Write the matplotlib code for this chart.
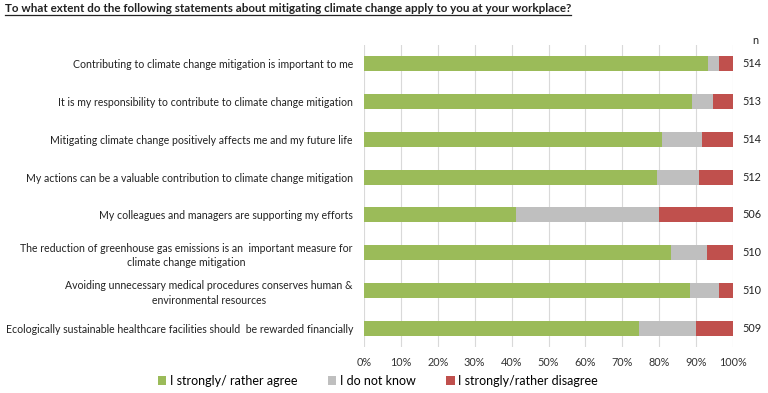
import matplotlib
matplotlib.use("Agg")
import matplotlib.pyplot as plt
from matplotlib.patches import Patch
import numpy as np

plt.rcParams['font.family'] = ['Lato', 'DejaVu Sans']

statements = [
    "Contributing to climate change mitigation is important to me",
    "It is my responsibility to contribute to climate change mitigation",
    "Mitigating climate change positively affects me and my future life",
    "My actions can be a valuable contribution to climate change mitigation",
    "My colleagues and managers are supporting my efforts",
    "The reduction of greenhouse gas emissions is an  important measure for\nclimate change mitigation",
    "Avoiding unnecessary medical procedures conserves human &\nenvironmental resources",
    "Ecologically sustainable healthcare facilities should  be rewarded financially",
]
agree = [93.3, 88.8, 80.7, 79.3, 41.2, 83.2, 88.3, 74.4]
dont_know = [2.8, 5.9, 10.8, 11.6, 38.7, 9.7, 7.9, 15.6]
disagree = [3.9, 5.3, 8.5, 9.1, 20.1, 7.1, 3.8, 10.0]
n_values = [514, 513, 514, 512, 506, 510, 510, 509]
series_names = ["I strongly/ rather agree", "I do not know", "I strongly/rather disagree"]
colors = ["#9BBB59", "#BFBFBF", "#C0504D"]

W, H = 768, 393
fig = plt.figure(figsize=(W / 100, H / 100), dpi=100)
ax = fig.add_axes([364 / W, 1 - 347 / H, (733 - 364) / W, (347 - 45) / H])

y = np.arange(len(statements))
left = np.zeros(len(statements))
for vals, col in zip([agree, dont_know, disagree], colors):
    ax.barh(y, vals, left=left, height=0.4, color=col, zorder=2)
    left = left + np.array(vals)

ax.set_xlim(0, 100)
ax.set_ylim(len(statements) - 0.5, -0.5)
ax.set_xticks(np.arange(0, 101, 10))
ax.set_xticklabels([f"{v}%" for v in range(0, 101, 10)], fontsize=7.8, color="#333333")
ax.set_yticks(y)
ax.set_yticklabels(statements, fontsize=7.6, color="#222222", linespacing=1.4)
for lbl in ax.get_yticklabels():
    lbl.set_multialignment('center')
ax.tick_params(axis='y', length=0, pad=8)
ax.tick_params(axis='x', length=0, pad=7)
ax.grid(axis='x', color="#D9D9D9", linewidth=0.8, zorder=0)
for s in ax.spines.values():
    s.set_visible(False)

# n column
trans = ax.get_yaxis_transform()
for yi, nv in zip(y, n_values):
    ax.text(1.05, yi, str(nv), transform=trans, ha='center', va='center', fontsize=7.8, color="#222222")
fig.text(755 / W, 1 - 40 / H, "n", ha='center', va='center', fontsize=7.8, color="#222222")

# title with underline
t = fig.text(5 / W, 1 - 9 / H, "To what extent do the following statements about mitigating climate change apply to you at your workplace?",
             ha='left', va='center', fontsize=8.4, fontweight='bold', color="#222222")
fig.canvas.draw()
bb = t.get_window_extent().transformed(fig.transFigure.inverted())
fig.add_artist(plt.Line2D([bb.x0, bb.x1], [bb.y0 - 0.002, bb.y0 - 0.002], color="#222222", lw=0.9, transform=fig.transFigure))

handles = [Patch(facecolor=c, edgecolor='none') for c in colors]
fig.legend(handles, series_names, loc='center', bbox_to_anchor=(0.492, 1 - 381 / H), ncol=3, frameon=False,
           fontsize=9, handlelength=0.7, handleheight=0.7, handletextpad=0.3, columnspacing=2.4)

fig.savefig("out.png", dpi=100)
